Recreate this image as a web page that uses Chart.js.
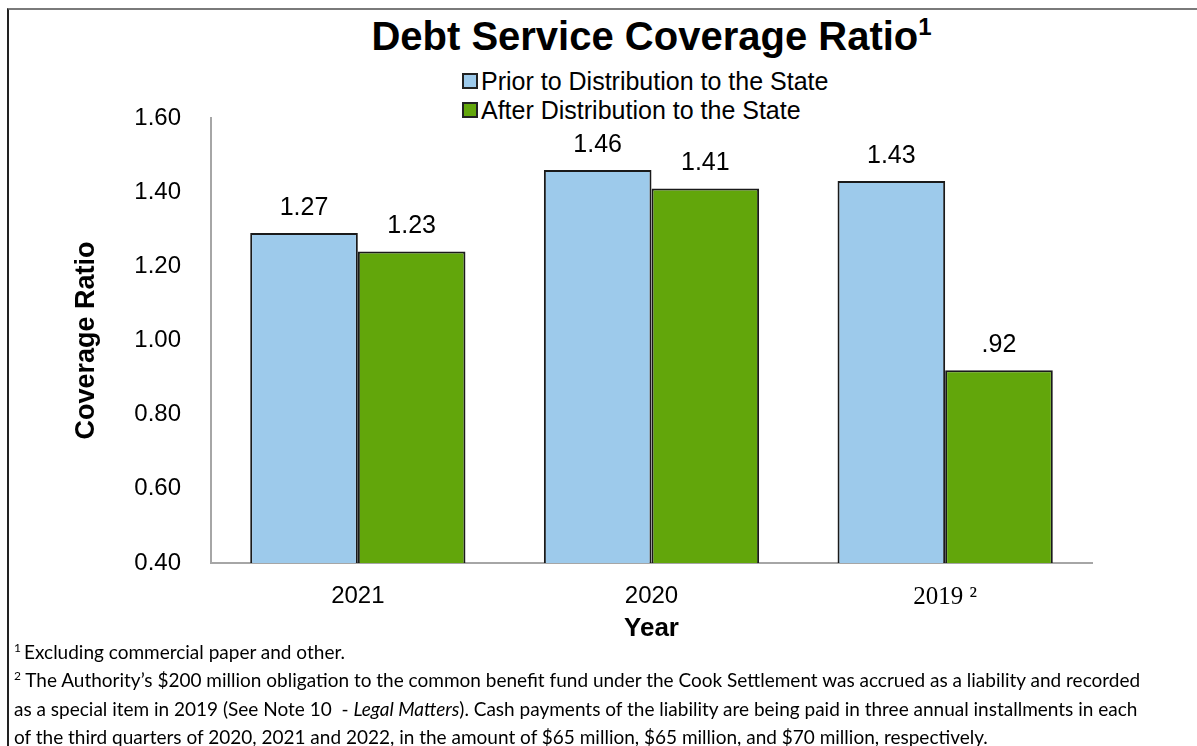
<!DOCTYPE html>
<html lang="en">
<head>
  <meta charset="UTF-8" />
  <title>Debt Service Coverage Ratio</title>
  <script src="https://cdn.jsdelivr.net/npm/chart.js"></script>
  <style>
    body {
      margin: 0;
      background: #fff;
      font-family: "Liberation Sans", Arial, sans-serif;
    }

    #page {
      position: relative;
      width: 1197px;
      height: 746px;
      overflow: hidden;
    }

    #frame {
      position: absolute;
      left: 7px;
      top: 8px;
      right: -5px;
      bottom: -5px;
      border-top: 2px solid #7a7a7a;
      border-left: 2px solid #222;
    }

    #chartTitle {
      position: absolute;
      left: 211px;
      width: 881px;
      top: 14px;
      text-align: center;
      font-weight: bold;
      font-size: 40px;
      color: #000;
    }

    #chartTitle sup {
      font-size: 24px;
      vertical-align: 15px;
      line-height: 0;
    }

    #legend {
      position: absolute;
      left: 462px;
      top: 67px;
      font-size: 25px;
      line-height: 29px;
    }

    #legend .box {
      display: inline-block;
      width: 12px;
      height: 12px;
      border: 2px solid #222;
      margin-right: 3px;
      vertical-align: 1px;
    }

    canvas {
      position: absolute;
      left: 0;
      top: 0;
    }

    #notes {
      position: absolute;
      left: 14px;
      top: 638px;
      font-family: Lato, "Open Sans", sans-serif;
      font-size: 19px;
      line-height: 28.4px;
      color: #000;
      white-space: nowrap;
    }

    #notes sup {
      font-size: 12px;
      line-height: 0;
    }
  </style>
</head>
<body>
  <div id="page">
    <div id="frame"></div>
    <div id="chartTitle">Debt Service Coverage Ratio<sup>1</sup></div>
    <div id="legend"></div>
    <canvas id="dscrChart" width="1197" height="650"></canvas>
    <div id="notes">
      <div><sup>1 </sup>Excluding commercial paper and other.</div>
      <div><sup>2</sup> The Authority’s $200 million obligation to the common benefit fund under the Cook Settlement was accrued as a liability and recorded</div>
      <div>as a special item in 2019 (See Note 10&nbsp; - <i>Legal Matters</i>). Cash payments of the liability are being paid in three annual installments in each</div>
      <div>of the third quarters of 2020, 2021 and 2022, in the amount of $65 million, $65 million, and $70 million, respectively.</div>
    </div>
  </div>

  <script>
    // data
    const years = ['2021', '2020', '2019 ²'];
    const seriesNames = ['Prior to Distribution to the State', 'After Distribution to the State'];
    const priorValues = [1.29, 1.46, 1.43];
    const afterValues = [1.24, 1.41, 0.92];
    const priorLabels = ['1.27', '1.46', '1.43'];
    const afterLabels = ['1.23', '1.41', '.92'];
    const yTicks = [0.4, 0.6, 0.8, 1.0, 1.2, 1.4, 1.6];

    const colors = ['#9dcaeb', '#62a60b'];
    const valueLabels = [priorLabels, afterLabels];

    // value labels above each bar
    const barLabels = {
      id: 'barLabels',
      afterDatasetsDraw(chart) {
        const ctx = chart.ctx;
        ctx.save();
        ctx.font = '25px "Liberation Sans", Arial, sans-serif';
        ctx.fillStyle = '#000';
        ctx.textAlign = 'center';
        ctx.textBaseline = 'middle';
        chart.data.datasets.forEach((ds, di) => {
          chart.getDatasetMeta(di).data.forEach((bar, i) => {
            ctx.fillText(valueLabels[di][i], bar.x, bar.y - 25);
          });
        });
        ctx.restore();
      }
    };

    const ctx = document.getElementById('dscrChart').getContext('2d');
    const myChart = new Chart(ctx, {
      type: 'bar',
      data: {
        labels: years,
        datasets: [
          {
            label: seriesNames[0],
            data: priorValues,
            backgroundColor: colors[0],
            borderColor: '#1a1a1a',
            borderWidth: 2
          },
          {
            label: seriesNames[1],
            data: afterValues,
            backgroundColor: colors[1],
            borderColor: '#1a1a1a',
            borderWidth: 2
          }
        ]
      },
      options: {
        responsive: false,
        animation: false,
        layout: { padding: { left: 60, top: 118, right: 105, bottom: 0 } },
        datasets: { bar: { barPercentage: 1, categoryPercentage: 0.733 } },
        plugins: {
          legend: { display: false },
          tooltip: { enabled: false }
        },
        scales: {
          x: {
            grid: { display: false, drawTicks: false },
            border: { display: true, color: '#a6a6a6', width: 2 },
            ticks: {
              padding: 19,
              color: '#000',
              font: (c) => c.index === 2
                ? { family: '"Liberation Serif", serif', size: 25 }
                : { family: '"Liberation Sans", Arial, sans-serif', size: 24 }
            },
            title: {
              display: true,
              text: 'Year',
              color: '#000',
              font: { family: '"Liberation Sans", Arial, sans-serif', size: 26, weight: 'bold' },
              padding: { top: 0, bottom: 6 }
            },
            afterFit: (s) => { s.height = 87; }
          },
          y: {
            min: 0.4,
            max: 1.6,
            afterBuildTicks: (s) => { s.ticks = yTicks.map(v => ({ value: v })); },
            grid: { display: false, drawTicks: false },
            border: { display: true, color: '#a6a6a6', width: 2 },
            ticks: {
              padding: 30,
              color: '#000',
              font: { family: '"Liberation Sans", Arial, sans-serif', size: 24 },
              callback: (v) => Number(v).toFixed(2)
            },
            title: {
              display: true,
              text: 'Coverage Ratio',
              color: '#000',
              font: { family: '"Liberation Sans", Arial, sans-serif', size: 27, weight: 'bold' },
              padding: { top: 10, bottom: 0 }
            },
            afterFit: (s) => { s.width = 151; }
          }
        }
      },
      plugins: [barLabels]
    });

    // legend as two stacked rows, like the original
    const legendEl = document.getElementById('legend');
    myChart.data.datasets.forEach((ds) => {
      const row = document.createElement('div');
      const box = document.createElement('span');
      box.className = 'box';
      box.style.background = ds.backgroundColor;
      row.appendChild(box);
      row.appendChild(document.createTextNode(ds.label));
      legendEl.appendChild(row);
    });
  </script>
</body>
</html>
